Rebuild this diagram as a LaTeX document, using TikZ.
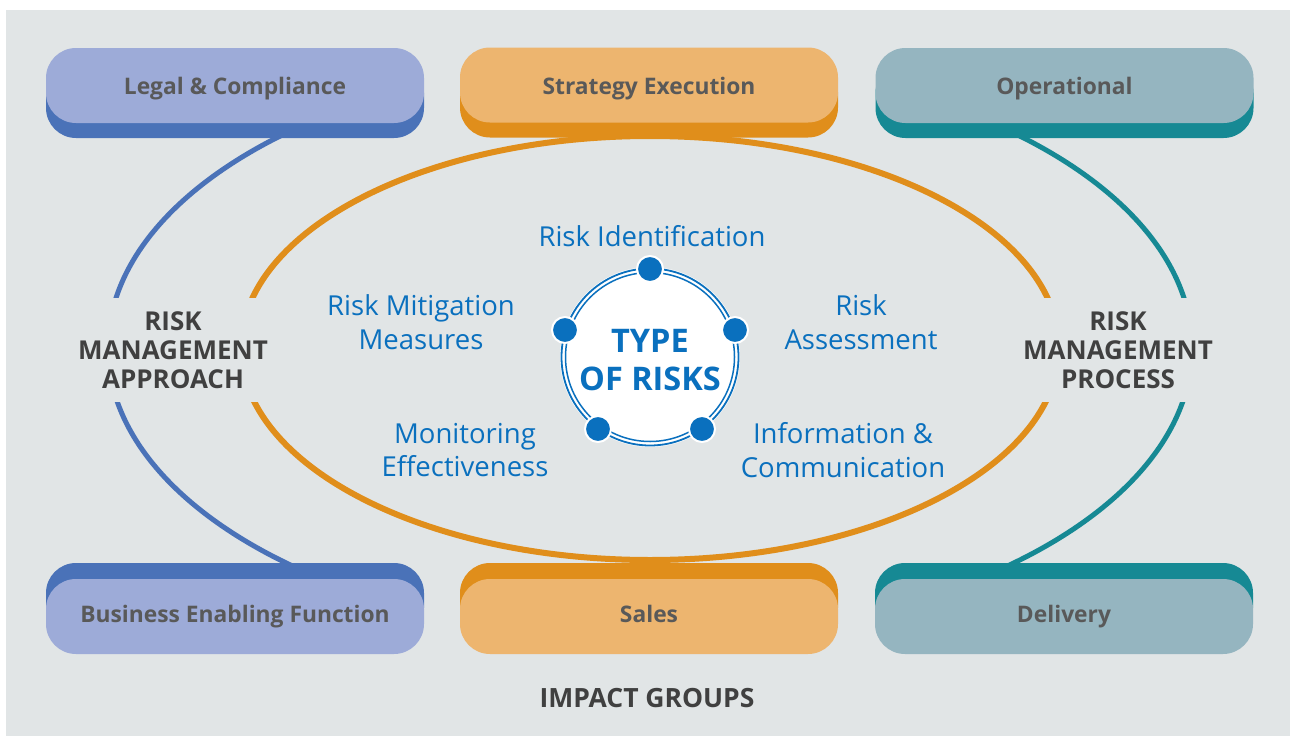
\documentclass[tikz,border=0pt]{standalone}
\usepackage{fontspec}
\setmainfont{Open Sans}
\usetikzlibrary{shadows}
\definecolor{bg}{HTML}{E1E5E6}
\definecolor{blueL}{HTML}{9DABD8}
\definecolor{blueD}{HTML}{4A72B8}
\definecolor{orL}{HTML}{EDB56F}
\definecolor{orD}{HTML}{E08E1B}
\definecolor{teL}{HTML}{95B5C0}
\definecolor{teD}{HTML}{168994}
\definecolor{boxtxt}{HTML}{595959}
\definecolor{darktxt}{HTML}{404040}
\definecolor{rblue}{HTML}{0A70BE}
\begin{document}
\begin{tikzpicture}[x=1pt,y=-1pt,
 box/.style={minimum width=378pt,minimum height=75pt,rounded corners=30pt,inner sep=0pt},
 boxlabel/.style={font=\fontsize{22.8}{27}\selectfont\bfseries,text=boxtxt,text height=17pt,text depth=5pt},
 topshadow/.style={drop shadow={shadow xshift=0pt,shadow yshift=-15pt,fill=#1,opacity=1}},
 botshadow/.style={drop shadow={shadow xshift=0pt,shadow yshift=16pt,fill=#1,opacity=1}},
 side/.style={font=\fontsize{26}{29}\selectfont\bfseries,text=darktxt,align=center,fill=bg,inner xsep=5pt,inner ysep=13pt},
 lbl/.style={font=\fontsize{27.5}{33.5}\selectfont,text=rblue,align=center},
 dot/.style={circle,fill=rblue,draw=white,line width=2pt,minimum size=26pt,inner sep=0pt}]
\useasboundingbox (0,0) rectangle (1290,736);
\fill[white] (0,0) rectangle (1290,736);
\fill[bg] (6,10) rectangle (1290,736);
% outer arcs
\begin{scope}
\clip (0,120) rectangle (650,580);
\draw[blueD,line width=5pt] (650,348) ellipse [x radius=542,y radius=290];
\end{scope}
\begin{scope}
\clip (650,120) rectangle (1290,580);
\draw[teD,line width=5pt] (650,348) ellipse [x radius=542,y radius=290];
\end{scope}
\draw[orD,line width=6pt] (650,348) ellipse [x radius=409,y radius=212];
% side labels
\node[side] (approach) at (173,350) {RISK\\MANAGEMENT\\APPROACH};
\node[side] (process) at (1118,350) {RISK\\MANAGEMENT\\PROCESS};
% boxes
\node[box,fill=blueL,topshadow=blueD] (legal) at (235,85.5) {};
\node[box,fill=orL,topshadow=orD] (strat) at (649,85) {};
\node[box,fill=teL,topshadow=teD] (oper) at (1064.5,85.5) {};
\node[box,fill=blueL,botshadow=blueD] (bef) at (235,616.5) {};
\node[box,fill=orL,botshadow=orD] (sales) at (649,616.5) {};
\node[box,fill=teL,botshadow=teD] (deliv) at (1064,616.5) {};
\node[boxlabel] at ([yshift=-3pt]legal.center) {Legal \& Compliance};
\node[boxlabel] at ([yshift=-3pt]strat.center) {Strategy Execution};
\node[boxlabel] at ([yshift=-3pt]oper.center) {Operational};
\node[boxlabel] at ([yshift=0pt]bef.center) {Business Enabling Function};
\node[boxlabel] at ([yshift=0pt]sales.center) {Sales};
\node[boxlabel] at ([yshift=0pt]deliv.center) {Delivery};
% center
\node[circle,fill=white,minimum size=180pt,inner sep=0pt] (core) at (650,357) {};
\draw[rblue,line width=1.8pt] (core.center) circle (88.5);
\draw[rblue,line width=1.5pt] (core.center) circle (84.5);
\node[font=\fontsize{32.5}{38}\selectfont\bfseries,text=rblue,align=center] (title) at (650,360) {TYPE\\OF RISKS};
\node[dot] (d1) at (650,269) {};
\node[dot] (d2) at (565,330) {};
\node[dot] (d3) at (735,330) {};
\node[dot] (d4) at (598,429) {};
\node[dot] (d5) at (702,429) {};
% labels
\node[lbl] (ident) at (652,236) {Risk Identification};
\node[lbl] (mitig) at (421,322) {Risk Mitigation\\Measures};
\node[lbl] (assess) at (861,322) {Risk\\Assessment};
\node[lbl] (monit) at (465,450) {Monitoring\\Effectiveness};
\node[lbl] (info) at (843,450) {Information \&\\Communication};
\node[font=\fontsize{26.5}{30}\selectfont\bfseries,text=darktxt] (impact) at (647,698) {IMPACT GROUPS};
\end{tikzpicture}
\end{document}
